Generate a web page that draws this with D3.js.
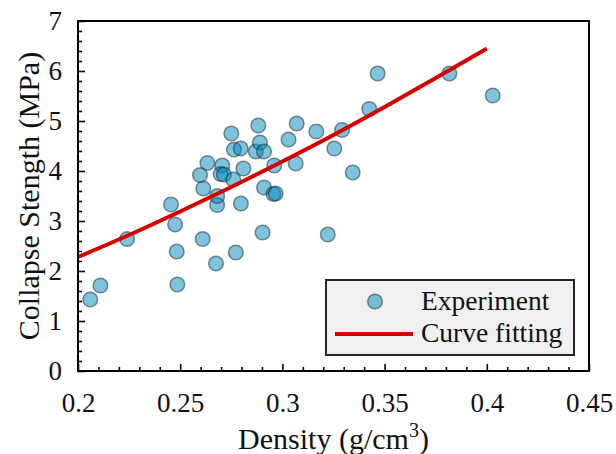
<!DOCTYPE html>
<html>
<head>
<meta charset="utf-8">
<script src="https://cdn.jsdelivr.net/npm/d3@7"></script>
<style>
  body { margin: 0; background: #fff; }
  text { font-family: "Liberation Serif", "Times New Roman", serif; fill: #111; }
</style>
</head>
<body>
<svg id="canvas" width="616" height="454"></svg>
<script>
const width = 616;
const height = 454;
const serif = '"Liberation Serif", "Times New Roman", serif';

// experiment points
const density = [0.206, 0.211, 0.224, 0.2455, 0.2475, 0.2483, 0.2486, 0.261, 0.2613, 0.2675,
  0.2681, 0.2681, 0.2772, 0.2797, 0.2903, 0.2750, 0.2882, 0.307, 0.3166, 0.3292,
  0.3425, 0.3030, 0.3254, 0.3344, 0.2763, 0.2796, 0.287, 0.289, 0.291, 0.2633,
  0.2706, 0.2597, 0.2698, 0.2714, 0.276, 0.2809, 0.296, 0.3065, 0.291, 0.2956,
  0.2967, 0.3222, 0.3466, 0.3817, 0.4029];
const strength = [1.43, 1.71, 2.64, 3.33, 2.93, 2.39, 1.73, 2.64, 3.65, 2.15,
  3.32, 3.50, 2.37, 3.35, 2.77, 4.75, 4.91, 4.95, 4.79, 4.82,
  5.24, 4.63, 4.45, 3.97, 4.43, 4.45, 4.39, 4.57, 4.39, 4.16,
  4.11, 3.92, 3.94, 3.93, 3.83, 4.05, 4.11, 4.15, 3.67, 3.54,
  3.55, 2.73, 5.95, 5.95, 5.51];

// fitted curve
const fitDensity = [0.2, 0.225, 0.25, 0.275, 0.3, 0.325, 0.35, 0.375, 0.4];
const fitStrength = [2.28, 2.72, 3.19, 3.68, 4.19, 4.72, 5.28, 5.86, 6.45];

const xTicks = [0.2, 0.25, 0.3, 0.35, 0.4, 0.45];
const xTickLabels = ['0.2', '0.25', '0.3', '0.35', '0.4', '0.45'];
const yTicks = [0, 1, 2, 3, 4, 5, 6, 7];

const legendNames = ['Experiment', 'Curve fitting'];

const svg = d3.select('#canvas');

const x = d3.scaleLinear().domain([0.2, 0.45]).range([78, 589]);
const y = d3.scaleLinear().domain([0, 7]).range([371, 21]);

// minor ticks
const xMinor = d3.range(0, 26).map(i => 0.2 + i * 0.01).filter(v => !xTicks.some(t => Math.abs(t - v) < 1e-6));
const yMinor = d3.range(0, 36).map(i => i * 0.2).filter(v => !yTicks.some(t => Math.abs(t - v) < 1e-6));

const xAxis = svg.append('g').attr('transform', `translate(0,${y(0)})`);
xAxis.call(d3.axisBottom(x).tickValues(xTicks).tickSizeInner(-7).tickSizeOuter(0)
  .tickPadding(22).tickFormat((d, i) => xTickLabels[i]));
xAxis.append('g').call(d3.axisBottom(x).tickValues(xMinor).tickSizeInner(-4).tickSizeOuter(0).tickFormat(''));

const yAxis = svg.append('g').attr('transform', `translate(${x(0.2)},0)`);
yAxis.call(d3.axisLeft(y).tickValues(yTicks).tickSizeInner(-7).tickSizeOuter(0)
  .tickPadding(16).tickFormat(d3.format('d')));
yAxis.append('g').call(d3.axisLeft(y).tickValues(yMinor).tickSizeInner(-4).tickSizeOuter(0).tickFormat(''));

[xAxis, yAxis].forEach(g => g.attr('font-family', serif).attr('font-size', 27));
svg.selectAll('.tick line').attr('stroke', '#000').attr('stroke-width', 1.6);
svg.selectAll('.domain').remove();
svg.selectAll('.tick text')
  .attr('font-family', serif)
  .attr('font-size', 27)
  .attr('fill', '#111');

// fitted curve
const line = d3.line()
  .x((d, i) => x(fitDensity[i]))
  .y(d => y(d))
  .curve(d3.curveMonotoneX);

// points
svg.append('g')
  .selectAll('circle')
  .data(strength)
  .enter()
  .append('circle')
  .attr('cx', (d, i) => x(density[i]))
  .attr('cy', d => y(d))
  .attr('r', 7.3)
  .attr('fill', 'rgb(0,134,184)')
  .attr('fill-opacity', 0.5)
  .attr('stroke', 'rgb(20,40,50)')
  .attr('stroke-opacity', 0.5)
  .attr('stroke-width', 1.5);

svg.append('path')
  .datum(fitStrength)
  .attr('d', line)
  .attr('fill', 'none')
  .attr('stroke', '#d40000')
  .attr('stroke-width', 4);

// frame
svg.append('rect')
  .attr('x', x(0.2))
  .attr('y', y(7))
  .attr('width', x(0.45) - x(0.2))
  .attr('height', y(0) - y(7))
  .attr('fill', 'none')
  .attr('stroke', '#000')
  .attr('stroke-width', 2);

// legend
const legend = svg.append('g');
legend.append('rect')
  .attr('x', 326).attr('y', 280)
  .attr('width', 248).attr('height', 75)
  .attr('fill', '#f0f0f0')
  .attr('stroke', '#262626')
  .attr('stroke-width', 2);
legend.append('circle')
  .attr('cx', 375).attr('cy', 301.5).attr('r', 7.3)
  .attr('fill', 'rgb(0,134,184)').attr('fill-opacity', 0.5)
  .attr('stroke', 'rgb(20,40,50)').attr('stroke-opacity', 0.5).attr('stroke-width', 1.5);
legend.append('line')
  .attr('x1', 335).attr('x2', 413).attr('y1', 334).attr('y2', 334)
  .attr('stroke', '#d40000').attr('stroke-width', 4);
legend.selectAll('text.leg')
  .data(legendNames)
  .enter()
  .append('text')
  .attr('class', 'leg')
  .attr('x', 421)
  .attr('y', (d, i) => 310 + i * 32)
  .attr('font-size', 27.5)
  .text(d => d);

// axis titles
const xTitle = svg.append('text')
  .attr('x', (x(0.2) + x(0.45)) / 2)
  .attr('y', 449)
  .attr('text-anchor', 'middle')
  .attr('font-size', 30);
xTitle.append('tspan').text('Density (g/cm');
xTitle.append('tspan').attr('dy', -12).attr('font-size', 20).text('3');
xTitle.append('tspan').attr('dy', 12).text(')');

svg.append('text')
  .attr('transform', `translate(39,${(y(0) + y(7)) / 2}) rotate(-90)`)
  .attr('text-anchor', 'middle')
  .attr('font-size', 30)
  .text('Collapse Stength (MPa)');
</script>
</body>
</html>
